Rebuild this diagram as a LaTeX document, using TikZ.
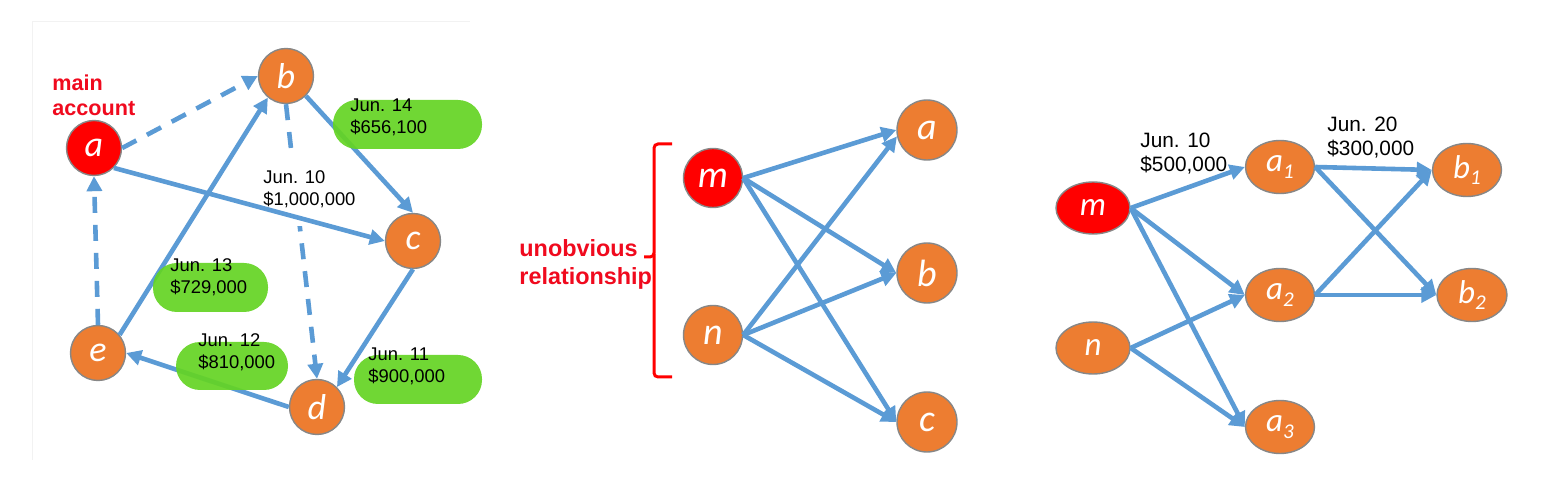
\documentclass[tikz,border=0pt]{standalone}
\usepackage{fontspec}
\setmainfont{Liberation Sans}
\newfontfamily\labfont{Carlito}
\usetikzlibrary{arrows.meta,shapes.geometric}
\definecolor{lblue}{RGB}{91,155,213}
\definecolor{orng}{RGB}{237,125,49}
\definecolor{grn}{RGB}{100,212,35}
\definecolor{nborder}{RGB}{135,135,135}
\definecolor{redtxt}{RGB}{240,10,30}
\newcommand{\sbs}[1]{\raisebox{-0.4ex}{\fontsize{10.5}{10.5}\selectfont #1}}
\begin{document}
\begin{tikzpicture}[x=0.5pt,y=-0.5pt,
  vtx/.style={circle,draw=nborder,line width=0.7pt,fill=orng,text=white,
    font=\labfont\itshape\fontsize{18}{18}\selectfont,inner sep=0pt,minimum size=27.5pt},
  vtxm/.style={vtx,minimum size=29.5pt,font=\labfont\itshape\fontsize{19}{19}\selectfont},
  vtxe/.style={ellipse,draw=nborder,line width=0.7pt,fill=orng,text=white,
    font=\labfont\itshape\fontsize{16.5}{16.5}\selectfont,inner sep=0pt,
    minimum width=34.5pt,minimum height=26.5pt},
  redv/.style={fill=red},
  conn/.style={draw=lblue,line width=2.3pt,-{Triangle[length=7.5pt,width=7.5pt]}},
  conndash/.style={conn,dash pattern=on 8pt off 6pt},
  pill/.style={rectangle,rounded corners=12pt,fill=grn,fill opacity=0.92,inner sep=0pt},
  lbl/.style={anchor=north west,inner sep=0pt,align=left,text=black,
    font=\fontsize{9.2}{11}\selectfont},
  lblr/.style={lbl,font=\fontsize{10.4}{12}\selectfont},
  redlbl/.style={anchor=north west,inner sep=0pt,align=left,text=redtxt,
    font=\bfseries\fontsize{10.8}{12.5}\selectfont}
]
\useasboundingbox (0,0) rectangle (1553,491);
\fill[white] (0,0) rectangle (1553,491);
% faint frame of left panel
\draw[gray!10,line width=0.5pt] (32,460) -- (32,22) -- (470,22);

% ---------------- left panel ----------------
\node[vtx,redv] (a) at (94,148) {a};
\node[vtx] (b) at (286,76) {b};
\node[vtx] (c) at (413,241) {c};
\node[vtx] (d) at (317,407) {d};
\node[vtx] (e) at (98,353) {e};
\node[redlbl] (main) at (52,74) {main\\account};

\draw[conndash] (a.east) -- (b.west);
\draw[conndash] (b.south) -- (d.north);
\draw[conndash] (e.north) -- (a.south);
% gap in the dashed line behind the label
\fill[white] (283,152) rectangle (318,226);
\draw[conn] (a.south east) -- (c.west);
\draw[conn] (b.south east) -- (c.north);
\draw[conn] (c.south) -- (d.north east);
\draw[conn] (d.west) -- (e.east);
\draw[conn] (e.40) -- (b.230);
\node[lbl] (t10) at (263,170) {Jun. 10\\\$1,000,000};

\node[pill,minimum width=74.5pt,minimum height=24.5pt] (g14) at (407.5,124.5) {};
\node[pill,minimum width=57.5pt,minimum height=24.5pt] (g13) at (210.5,287.5) {};
\node[pill,minimum width=56pt,minimum height=24pt] (g12) at (232,366) {};
\node[pill,minimum width=64pt,minimum height=24.5pt] (g11) at (418,379.5) {};
\node[lbl] (t14) at (350,98) {Jun. 14\\\$656,100};
\node[lbl] (t13) at (170,258) {Jun. 13\\\$729,000};
\node[lbl] (t12) at (198,333) {Jun. 12\\\$810,000};
\node[lbl] (t11) at (368,347) {Jun. 11\\\$900,000};

% ---------------- middle panel ----------------
\node[vtxm,redv] (m2) at (713,178) {m};
\node[vtxm] (n2) at (713,335) {n};
\node[vtxm,minimum size=30pt] (a2) at (927,130) {a};
\node[vtxm,minimum size=30pt] (b2) at (927,273) {b};
\node[vtxm,minimum size=30pt] (c2) at (927,422) {c};
\foreach \s/\t in {m2/a2,m2/b2,m2/c2,n2/b2,n2/c2}
  \draw[conn] (\s.east) -- (\t.west);
\draw[conn] (n2.east) -- (a2.192);
\coordinate (brt) at (672,144);
\coordinate (brb) at (672,377);
\coordinate (brm) at (644,257);
\draw[red,line width=1.5pt,rounded corners=2pt] (brt) -| (654,257) -- (brm);
\draw[red,line width=1.5pt,rounded corners=2pt] (654,254) |- (brb);
\node[redlbl,font=\bfseries\fontsize{11.7}{14}\selectfont] (unob) at (519,239) {unobvious\\relationship};

% ---------------- right panel ----------------
\node[vtxe,redv,minimum width=37pt,minimum height=26pt] (m3) at (1093,208) {m};
\node[vtxe,minimum width=37pt,minimum height=26pt] (n3) at (1093,348) {n};
\node[vtxe] (a31) at (1280,167) {a\sbs{1}};
\node[vtxe] (a32) at (1280,295) {a\sbs{2}};
\node[vtxe] (a33) at (1280,427) {a\sbs{3}};
\node[vtxe] (b31) at (1467,170) {b\sbs{1}};
\node[vtxe,minimum width=35pt] (b32) at (1472,295) {b\sbs{2}};
\foreach \s/\t in {m3/a31,m3/a32,m3/a33,n3/a32,n3/a33,a31/b31,a31/b32,a32/b31,a32/b32}
  \draw[conn] (\s.east) -- (\t.west);
\node[lblr] (t3a) at (1140,133) {Jun. 10\\\$500,000};
\node[lblr] (t3b) at (1327,117) {Jun. 20\\\$300,000};
\end{tikzpicture}
\end{document}
